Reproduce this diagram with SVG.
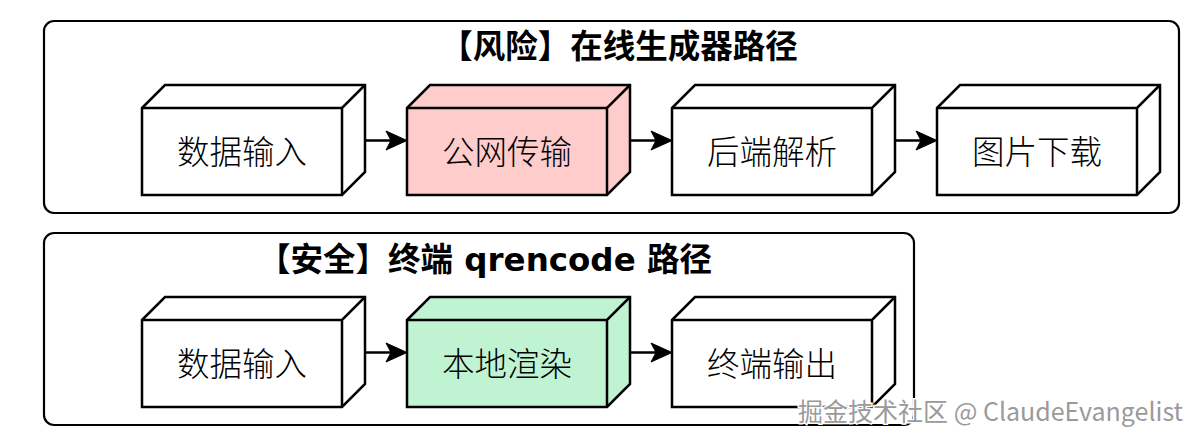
<svg xmlns="http://www.w3.org/2000/svg" width="1200" height="447" viewBox="0 0 1200 447">
<defs>
<style>
.frame{fill:#fff;stroke:#000;stroke-width:2.2}
.cube{stroke:#000;stroke-width:2.5;stroke-linejoin:miter}
.edge{fill:none;stroke:#000;stroke-width:2.5}
.conn{fill:none;stroke:#000;stroke-width:2.5}
.head{fill:#000;stroke:#000;stroke-width:1;stroke-linejoin:miter}
.title{font-family:"DejaVu Sans","Noto Sans CJK SC",sans-serif;font-weight:bold;font-size:32.5px;fill:#000;text-anchor:middle}
.lbl{font-family:"Noto Sans CJK SC","DejaVu Sans",sans-serif;font-weight:300;font-size:32.5px;fill:#000;text-anchor:middle}
.wm{font-family:"Noto Sans CJK SC","Noto Sans",sans-serif;font-size:25px;fill:#9a9a9a;stroke:#fff;stroke-width:3;paint-order:stroke;text-anchor:end}
</style>
</defs>
<rect width="1200" height="447" fill="#fff"/>
<g id="group-risk">
<rect class="frame" x="44" y="21" width="1135" height="192" rx="10"/>
<text class="title" x="619" y="58">【风险】在线生成器路径</text>
</g>
<g id="group-safe">
<rect class="frame" x="44" y="233" width="870" height="192" rx="10"/>
<text class="title" x="485" y="271">【安全】终端 qrencode 路径</text>
</g>
<g id="connectors">
<path class="conn" d="M365,140.5 H392"/>
<path class="head" d="M407,140.5 L386,131 L391,140.5 L386,150 Z"/>
<path class="conn" d="M630,140.5 H657"/>
<path class="head" d="M672,140.5 L651,131 L656,140.5 L651,150 Z"/>
<path class="conn" d="M895,140.5 H922"/>
<path class="head" d="M937,140.5 L916,131 L921,140.5 L916,150 Z"/>
<path class="conn" d="M365,352.5 H392"/>
<path class="head" d="M407,352.5 L386,343 L391,352.5 L386,362 Z"/>
<path class="conn" d="M630,352.5 H657"/>
<path class="head" d="M672,352.5 L651,343 L656,352.5 L651,362 Z"/>
</g>
<g id="node-r1" transform="translate(142,108)">
<path class="cube" fill="#fff" d="M0,0 L23,-23 L223,-23 L223,64 L200,87 L0,87 Z"/>
<path class="edge" d="M0,0 H200 L223,-23 M200,0 V87"/>
<text class="lbl" x="100" y="56">数据输入</text>
</g>
<g id="node-r2" transform="translate(407,108)">
<path class="cube" fill="#ffcccc" d="M0,0 L23,-23 L223,-23 L223,64 L200,87 L0,87 Z"/>
<path class="edge" d="M0,0 H200 L223,-23 M200,0 V87"/>
<text class="lbl" x="100" y="56">公网传输</text>
</g>
<g id="node-r3" transform="translate(672,108)">
<path class="cube" fill="#fff" d="M0,0 L23,-23 L223,-23 L223,64 L200,87 L0,87 Z"/>
<path class="edge" d="M0,0 H200 L223,-23 M200,0 V87"/>
<text class="lbl" x="100" y="56">后端解析</text>
</g>
<g id="node-r4" transform="translate(937,108)">
<path class="cube" fill="#fff" d="M0,0 L23,-23 L223,-23 L223,64 L200,87 L0,87 Z"/>
<path class="edge" d="M0,0 H200 L223,-23 M200,0 V87"/>
<text class="lbl" x="100" y="56">图片下载</text>
</g>
<g id="node-s1" transform="translate(142,320)">
<path class="cube" fill="#fff" d="M0,0 L23,-23 L223,-23 L223,64 L200,87 L0,87 Z"/>
<path class="edge" d="M0,0 H200 L223,-23 M200,0 V87"/>
<text class="lbl" x="100" y="56">数据输入</text>
</g>
<g id="node-s2" transform="translate(407,320)">
<path class="cube" fill="#bff3d2" d="M0,0 L23,-23 L223,-23 L223,64 L200,87 L0,87 Z"/>
<path class="edge" d="M0,0 H200 L223,-23 M200,0 V87"/>
<text class="lbl" x="100" y="56">本地渲染</text>
</g>
<g id="node-s3" transform="translate(672,320)">
<path class="cube" fill="#fff" d="M0,0 L23,-23 L223,-23 L223,64 L200,87 L0,87 Z"/>
<path class="edge" d="M0,0 H200 L223,-23 M200,0 V87"/>
<text class="lbl" x="100" y="56">终端输出</text>
</g>
<text class="wm" x="1183" y="421">掘金技术社区 @ ClaudeEvangelist</text>
</svg>
